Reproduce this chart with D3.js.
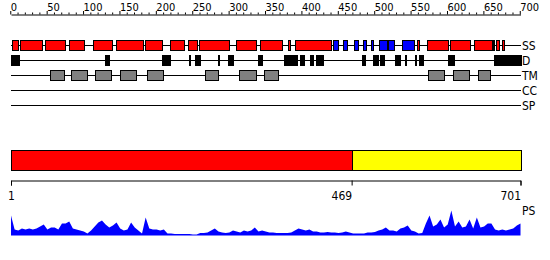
<!DOCTYPE html>
<html>
<head>
<meta charset="utf-8">
<script src="https://cdn.jsdelivr.net/npm/d3@7"></script>
<style>
  body { margin: 0; background: #fff; }
  svg { display: block; }
  text { font-family: "Liberation Sans Narrow", "DejaVu Sans Condensed", sans-serif; fill: #000; }
</style>
</head>
<body>
<script>
var seqLength = 701

// secondary structure: helices (red) and strands (blue), residue ranges
var helices = [[3, 10], [14, 44], [48, 75], [80, 101], [113, 140], [145, 183], [185, 208],
  [219, 238], [244, 256], [259, 300], [310, 338], [343, 373], [382, 385], [391, 441],
  [559, 562], [572, 602], [604, 631], [637, 662], [663, 665], [667, 672], [675, 679]]
var strands = [[443, 450], [457, 462], [472, 478], [484, 489], [495, 498], [506, 517],
  [519, 527], [538, 554]]

// disorder (black)
var disorder = [[1, 12], [127, 128], [130, 135], [208, 220], [245, 247], [254, 261],
  [285, 287], [299, 306], [341, 346], [376, 394], [398, 403], [412, 416], [420, 429],
  [457, 457], [483, 487], [498, 505], [508, 513], [528, 536], [539, 540], [543, 544],
  [556, 558], [562, 567], [601, 604], [605, 609], [665, 701]]

// transmembrane segments (grey)
var transmem = [[54, 74], [84, 106], [117, 139], [151, 173], [188, 210], [268, 285],
  [314, 337], [349, 368], [574, 596], [608, 630], [642, 659]]

var coiledCoil = []
var signalPeptide = []

var trackLabels = ['SS', 'D', 'TM', 'CC', 'SP']

// domain bar
var domainStarts = [1, 469]
var domainEnds = [469, 701]
var domainColors = ['#ff0000', '#ffff00']
var domainTicks = [1, 469, 701]

// PS profile, read every 5 residues
var psPos = d3.range(1, 702, 5)
var psVal = [20, 6, 5, 7, 6, 7, 6, 7, 9, 11, 6, 8, 8, 6, 12, 12, 14, 7, 6, 5,
  4, 2, 5, 9, 13, 15, 11, 8, 10, 13, 7, 5, 6, 13, 8, 5, 2, 18, 7, 6,
  6, 5, 6, 2, 2, 1.5, 1.5, 1.5, 1.5, 1.5, 1, 1, 2.5, 2.5, 3, 5, 7, 4, 3, 2.5,
  3, 5, 4, 3, 5, 4, 5, 8, 4, 5, 4, 3, 3, 2.5, 2.5, 2.5, 2.5, 3, 5, 7,
  6, 5, 6, 4, 4, 3, 3, 3.5, 3, 3, 2.5, 3, 4, 3, 2, 2, 2, 2, 3, 3,
  3.5, 5, 6, 8, 5, 5, 4, 7, 8, 10, 5, 4, 2, 2.5, 12, 20, 9, 11, 16, 8,
  11, 25, 9, 14, 8, 9, 16, 7, 18, 8, 9, 12, 12, 6, 5, 6, 5, 6, 7, 10, 12]

var width = 550, height = 260

var svg = d3.select('body').append('svg')
  .attr('width', width)
  .attr('height', height)

var x = d3.scaleLinear().domain([1, seqLength]).range([11, 520.5])

// top ruler
var topAxis = svg.append('g')
  .attr('transform', 'translate(0,14.5)')
  .call(d3.axisTop(x)
    .tickValues(d3.range(0, 701, 10))
    .tickSizeOuter(0)
    .tickFormat(function(d) { return d % 50 === 0 ? d : '' }))
topAxis.select('.domain').attr('stroke', '#000')
topAxis.selectAll('.tick line')
  .attr('stroke', '#000')
  .attr('y2', function(d) { return d % 50 === 0 ? -3.5 : -2 })
topAxis.selectAll('.tick text')
  .attr('text-anchor', 'start')
  .attr('y', -4)
  .attr('font-size', 11)
  .attr('fill', '#000')

// feature tracks
var tracks = [
  { items: helices.map(function(r) { return { r: r, c: '#ff0000' } }).concat(
      strands.map(function(r) { return { r: r, c: '#0000ff' } })) },
  { items: disorder.map(function(r) { return { r: r, c: '#000000' } }) },
  { items: transmem.map(function(r) { return { r: r, c: '#808080' } }) },
  { items: coiledCoil.map(function(r) { return { r: r, c: '#ffa500' } }) },
  { items: signalPeptide.map(function(r) { return { r: r, c: '#00ff00' } }) }
]

var rowY = d3.scalePoint().domain(trackLabels).range([45.5, 105.5])

var track = svg.selectAll('g.track')
  .data(tracks)
  .enter().append('g')
  .attr('class', 'track')
  .attr('transform', function(d, i) { return 'translate(0,' + rowY(trackLabels[i]) + ')' })

track.append('line')
  .attr('x1', x(1))
  .attr('x2', x(seqLength))
  .attr('stroke', '#000')
  .attr('shape-rendering', 'crispEdges')

track.selectAll('rect')
  .data(function(d) { return d.items })
  .enter().append('rect')
  .attr('x', function(d) { return Math.round(x(d.r[0])) + 0.5 })
  .attr('width', function(d) { return Math.max(0, Math.round(x(d.r[1])) - Math.round(x(d.r[0]))) })
  .attr('y', -5)
  .attr('height', 10)
  .attr('fill', function(d) { return d.c })
  .attr('stroke', '#000')

track.append('text')
  .attr('x', 522)
  .attr('y', 4)
  .attr('font-size', 12)
  .text(function(d, i) { return trackLabels[i] })

// domain bar
svg.selectAll('rect.domain-bar')
  .data(domainStarts)
  .enter().append('rect')
  .attr('class', 'domain-bar')
  .attr('x', function(d) { return Math.round(x(d)) + 0.5 })
  .attr('width', function(d, i) { return Math.round(x(domainEnds[i])) - Math.round(x(d)) })
  .attr('y', 150.5)
  .attr('height', 20)
  .attr('fill', function(d, i) { return domainColors[i] })
  .attr('stroke', '#000')

var bottomAxis = svg.append('g')
  .attr('transform', 'translate(0,180.5)')
  .call(d3.axisBottom(x)
    .tickValues(domainTicks)
    .tickSizeOuter(0)
    .tickSize(5)
    .tickFormat(d3.format('d')))
bottomAxis.select('.domain').attr('stroke', '#000')
bottomAxis.selectAll('.tick line').attr('stroke', '#000')
bottomAxis.selectAll('.tick text')
  .attr('font-size', 12)
  .attr('fill', '#000')
  .attr('y', 19.5)
  .attr('dy', 0)
  .attr('text-anchor', function(d, i) { return i === 0 ? 'middle' : 'end' })

// PS profile
var yPs = d3.scaleLinear().domain([0, 25]).range([235.5, 210.5])

svg.append('path')
  .datum(psPos)
  .attr('fill', '#0000ff')
  .attr('d', d3.area()
    .x(function(d) { return x(d) })
    .y0(yPs(0))
    .y1(function(d, i) { return yPs(psVal[i]) }))

svg.append('text')
  .attr('x', 522)
  .attr('y', 215)
  .attr('font-size', 12)
  .text('PS')
</script>
</body>
</html>
